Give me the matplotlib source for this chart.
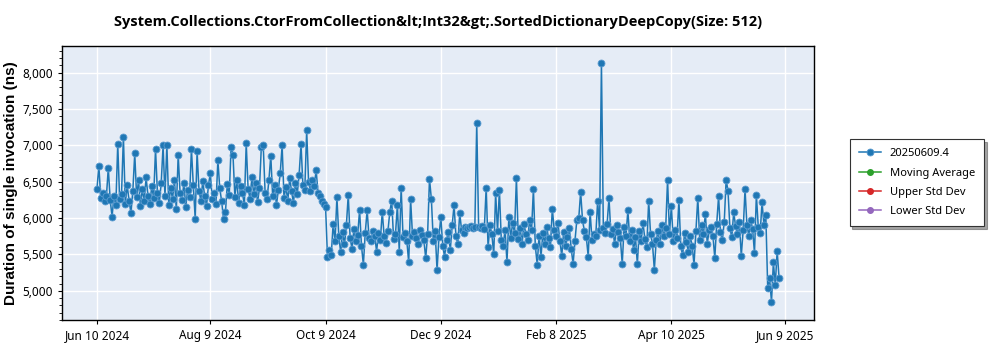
import numpy as np
import pandas as pd
import matplotlib
matplotlib.use('Agg')
import matplotlib.pyplot as plt
import matplotlib.dates as mdates
from matplotlib.ticker import FuncFormatter, MultipleLocator

plt.rcParams['font.family'] = ['Noto Sans', 'DejaVu Sans']

TITLE = 'System.Collections.CtorFromCollection&lt;Int32&gt;.SortedDictionaryDeepCopy(Size: 512)'
SERIES_LABEL = '20250609.4'
START = '2024-06-10'

# one benchmark result per day (ns), month by month
jun24 = [6400, 6720, 6280, 6350, 6230, 6300, 6690, 6250, 6020, 6310, 6180, 7020, 6260, 6330,
         7120, 6200, 6450, 6240, 6070, 6380, 6890]
jul24 = [6290, 6520, 6170, 6400, 6230, 6560, 6310, 6190, 6440, 6280, 6950, 6350, 6210, 6480,
         7000, 6300, 7010, 6180, 6420, 6260, 6530, 6120, 6870, 6340, 6250, 6480, 6160, 6390,
         6290, 6950, 6450]
aug24 = [5990, 6920, 6380, 6240, 6510, 6300, 6170, 6450, 6620, 6260, 6350, 6190, 6800, 6410,
         6230, 5990, 6080, 6470, 6320, 6980, 6870, 6290, 6530, 6210, 6440, 6350, 6180, 7030,
         6400, 6270, 6560]
sep24 = [6330, 6480, 6220, 6410, 6980, 7000, 6350, 6260, 6520, 6860, 6300, 6450, 6180, 6390,
         6620, 7000, 6280, 6430, 6240, 6550, 6370, 6210, 6480, 6330, 6600, 7020, 6450, 6390,
         7210, 6500]
oct24 = [6380, 6520, 6440, 6660, 6350, 6300, 6240, 6200, 6150, 5470, 5560, 5490, 5920, 5680,
         6290, 5750, 5530, 5810, 5640, 5900, 6320, 5720, 5580, 5850, 5690, 5770, 6110, 5620,
         5360, 5800, 6110]
nov24 = [5730, 5680, 5820, 5760, 5540, 5790, 5700, 6090, 5750, 5660, 5820, 6090, 6240, 5710,
         5780, 6180, 5540, 6420, 5740, 5800, 5690, 5390, 6260, 5760, 5810, 5720, 5650, 5830,
         5770, 5700]
dec24 = [5450, 5780, 6540, 6260, 5690, 5820, 5280, 5740, 6020, 5620, 5470, 5700, 5810, 5560,
         5900, 6180, 5750, 5640, 6070, 5830, 5790, 5880, 5870, 5880, 5890, 5870, 5880, 7310,
         5880, 5870, 5890]
jan25 = [5850, 6420, 5600, 5900, 5780, 5500, 6350, 5820, 6390, 5700, 5620, 5840, 5390, 6010,
         5730, 5930, 5800, 6550, 5710, 5860, 5650, 5920, 5780, 5700, 5980, 5830, 6400, 5620,
         5360, 5760, 5470]
feb25 = [5790, 5650, 5880, 5720, 5600, 6130, 5840, 5760, 5930, 5690, 5480, 5810, 5620, 5740,
         5870, 5580, 5370, 5690, 5980, 6000, 6360, 5970, 5820, 5740, 5470, 6090, 5700, 5780]
mar25 = [5760, 6240, 5830, 8130, 5870, 5800, 5920, 6280, 5780, 5850, 5640, 5900, 5810, 5720,
         5370, 5880, 5760, 6110, 5690, 5830, 5560, 5740, 5370, 5820, 5680, 5930, 5710, 5600,
         6240, 5780, 5650]
apr25 = [5290, 5700, 5820, 5640, 5900, 5750, 5860, 6530, 5780, 6170, 5690, 5840, 5720, 6250,
         5610, 5490, 5800, 5670, 5540, 5750, 5620, 5360, 5820, 6280, 5700, 5900, 5780, 6060,
         5650, 5830]
may25 = [5880, 5760, 5450, 5920, 6300, 5810, 5700, 5950, 6530, 6370, 5860, 5740, 6080, 5890,
         5780, 5940, 5480, 5830, 6400, 5900, 5760, 5970, 5850, 5520, 6320, 5880, 5790, 6220,
         5910, 6040, 5040]
jun25 = [5170, 4850, 5390, 5080, 5550, 5180]

durations = (jun24 + jul24 + aug24 + sep24 + oct24 + nov24 + dec24 + jan25 + feb25 +
             mar25 + apr25 + may25 + jun25)
dates = pd.date_range(START, periods=len(durations), freq='D')

# extra series shown in the legend only (no points in this run)
moving_avg = []
upper_std = []
lower_std = []

tick_dates = pd.to_datetime(['2024-06-10', '2024-08-09', '2024-10-09', '2024-12-09',
                             '2025-02-08', '2025-04-10', '2025-06-09'])

fig = plt.figure(figsize=(10, 3.5), dpi=100)
ax = fig.add_axes([0.062, 0.086, 0.752, 0.783])
ax.set_facecolor('#E5ECF6')

ax.plot(dates, durations, color='#1f77b4', lw=1.1, marker='o', ms=5,
        markeredgewidth=0.6, markeredgecolor='#5b9bd0', label=SERIES_LABEL, zorder=3)
ax.plot(moving_avg, moving_avg, color='#2ca02c', lw=1.1, marker='o', ms=4, label='Moving Average')
ax.plot(upper_std, upper_std, color='#d62728', lw=1.1, marker='o', ms=4, label='Upper Std Dev')
ax.plot(lower_std, lower_std, color='#9467bd', lw=1.1, marker='o', ms=4, label='Lower Std Dev')

ax.set_ylim(4600, 8370)
ax.set_xlim(dates[0] - pd.Timedelta(days=18.5), dates[-1] + pd.Timedelta(days=18.5))
ax.yaxis.set_major_locator(MultipleLocator(500))
ax.yaxis.set_minor_locator(MultipleLocator(100))
ax.yaxis.set_major_formatter(FuncFormatter(lambda v, p: f'{v:,.0f}'))
ax.set_xticks(tick_dates)
ax.xaxis.set_major_formatter(mdates.DateFormatter('%b %-d %Y'))

ax.grid(True, color='white', lw=1.0, zorder=0)
ax.set_axisbelow(True)
for s in ax.spines.values():
    s.set_color('black')
    s.set_linewidth(1.0)
ax.tick_params(axis='both', labelsize=8.5, length=3, color='black')
ax.tick_params(axis='y', which='minor', length=2)

ax.set_ylabel('Duration of single invocation (ns)', fontsize=11, fontweight='bold',
              family='Liberation Sans', labelpad=3)
ax.set_title(TITLE, fontsize=10.5, fontweight='bold', family='Open Sans', pad=14)

leg = ax.legend(loc='center left', bbox_to_anchor=(1.04, 0.5), fontsize=8,
                fancybox=False, shadow=True, edgecolor='#333333', framealpha=1,
                borderpad=0.8, labelspacing=0.75, handlelength=2.0)
leg.get_frame().set_linewidth(0.8)

fig.savefig('out.png', dpi=100)
